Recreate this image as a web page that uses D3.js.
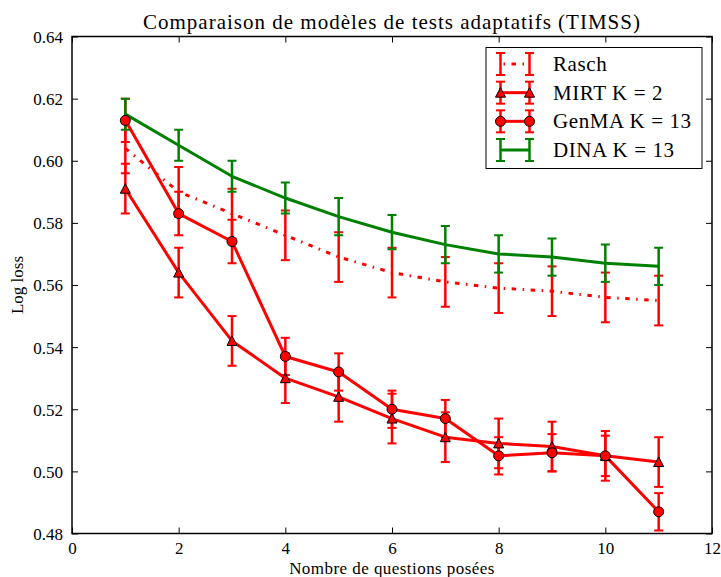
<!DOCTYPE html>
<html>
<head>
<meta charset="utf-8">
<script src="https://cdn.jsdelivr.net/npm/d3@7"></script>
<style>
  html, body { margin: 0; padding: 0; background: #fff; }
  svg { display: block; }
  text { font-family: "Liberation Serif", "Times New Roman", serif; fill: #000; }
</style>
</head>
<body>
<svg id="chart" width="721" height="577"></svg>
<script>
// ---- data ----
const questions = [1, 2, 3, 4, 5, 6, 7, 8, 9, 10, 11];
const raschValues = [0.604, 0.590, 0.583, 0.576, 0.569, 0.564, 0.561, 0.559, 0.558, 0.556, 0.555];
const raschErrors = [0.008, 0.008, 0.008, 0.008, 0.008, 0.008, 0.008, 0.008, 0.008, 0.008, 0.008];
const mirtValues = [0.591, 0.564, 0.542, 0.530, 0.524, 0.517, 0.511, 0.509, 0.508, 0.505, 0.503];
const mirtErrors = [0.008, 0.008, 0.008, 0.008, 0.008, 0.008, 0.008, 0.008, 0.008, 0.008, 0.008];
const genmaValues = [0.613, 0.583, 0.574, 0.537, 0.532, 0.520, 0.517, 0.505, 0.506, 0.505, 0.487];
const genmaErrors = [0.007, 0.007, 0.007, 0.006, 0.006, 0.006, 0.006, 0.006, 0.006, 0.0065, 0.006];
const dinaValues = [0.615, 0.605, 0.595, 0.588, 0.582, 0.577, 0.573, 0.570, 0.569, 0.567, 0.566];
const dinaErrors = [0.005, 0.005, 0.005, 0.005, 0.006, 0.0055, 0.006, 0.006, 0.006, 0.006, 0.006];
const seriesNames = ["Rasch", "MIRT K = 2", "GenMA K = 13", "DINA K = 13"];
const xTicks = [0, 2, 4, 6, 8, 10, 12];
const yTicks = [0.48, 0.50, 0.52, 0.54, 0.56, 0.58, 0.60, 0.62, 0.64];
const titleText = "Comparaison de modèles de tests adaptatifs (TIMSS)";
const xLabelText = "Nombre de questions posées";
const yLabelText = "Log loss";

// ---- styles ----
const RED = "#ff0000", GREEN = "#008000";
const series = [
  { name: seriesNames[0], values: raschValues, errors: raschErrors, color: RED, dash: "4.5,6.5,1.5,6.5", marker: null },
  { name: seriesNames[1], values: mirtValues, errors: mirtErrors, color: RED, dash: null, marker: "triangle" },
  { name: seriesNames[2], values: genmaValues, errors: genmaErrors, color: RED, dash: null, marker: "circle" },
  { name: seriesNames[3], values: dinaValues, errors: dinaErrors, color: GREEN, dash: null, marker: null }
];

const svg = d3.select("#chart");
const plot = { left: 72, right: 712, top: 36.5, bottom: 533.5 };
const x = d3.scaleLinear().domain([0, 12]).range([plot.left, plot.right]);
const y = d3.scaleLinear().domain([0.48, 0.64]).range([plot.bottom, plot.top]);

const TICK = 6;
const g = svg.append("g");

// ticks (inward, all four sides)
const axB = d3.axisBottom(x).tickValues(xTicks).tickSizeInner(-TICK).tickSizeOuter(0).tickFormat(d => d);
const axT = d3.axisTop(x).tickValues(xTicks).tickSizeInner(-TICK).tickSizeOuter(0).tickFormat("");
const axL = d3.axisLeft(y).tickValues(yTicks).tickSizeInner(-TICK).tickSizeOuter(0).tickFormat(d3.format(".2f"));
const axR = d3.axisRight(y).tickValues(yTicks).tickSizeInner(-TICK).tickSizeOuter(0).tickFormat("");

function styleAxis(sel) {
  sel.select(".domain").remove();
  sel.selectAll(".tick line").attr("stroke", "#000").attr("stroke-width", 1);
  sel.selectAll(".tick text").style("font-family", "'Liberation Serif', serif").style("font-size", "17px").attr("fill", "#000");
}
const gB = g.append("g").attr("transform", `translate(0,${plot.bottom})`).call(axB).call(styleAxis);
gB.selectAll(".tick text").attr("y", 8).attr("dy", "0.71em");
const gT = g.append("g").attr("transform", `translate(0,${plot.top})`).call(axT).call(styleAxis);
const gL = g.append("g").attr("transform", `translate(${plot.left},0)`).call(axL).call(styleAxis);
gL.selectAll(".tick text").attr("x", -9).attr("dy", "0.35em");
const gR = g.append("g").attr("transform", `translate(${plot.right},0)`).call(axR).call(styleAxis);

// clip
svg.append("defs").append("clipPath").attr("id", "clip")
  .append("rect").attr("x", plot.left).attr("y", plot.top)
  .attr("width", plot.right - plot.left).attr("height", plot.bottom - plot.top);

const data = g.append("g").attr("clip-path", "url(#clip)");
const CAP = 4.5;

function drawErrorBars(sel, s) {
  const eb = sel.append("g").attr("stroke", s.color);
  questions.forEach((q, i) => {
    const xv = x(q), y1 = y(s.values[i] + s.errors[i]), y0 = y(s.values[i] - s.errors[i]);
    eb.append("line").attr("x1", xv).attr("x2", xv).attr("y1", y1).attr("y2", y0).attr("stroke-width", 2.5);
    eb.append("line").attr("x1", xv - CAP).attr("x2", xv + CAP).attr("y1", y1).attr("y2", y1).attr("stroke-width", 2);
    eb.append("line").attr("x1", xv - CAP).attr("x2", xv + CAP).attr("y1", y0).attr("y2", y0).attr("stroke-width", 2);
  });
}

const line = d3.line().x((d, i) => x(questions[i])).y(d => y(d));
series.forEach(s => {
  drawErrorBars(data, s);
  const p = data.append("path").datum(s.values).attr("d", line)
    .attr("fill", "none").attr("stroke", s.color).attr("stroke-width", 3)
    .attr("stroke-linejoin", "round");
  if (s.dash) p.attr("stroke-dasharray", s.dash).attr("stroke-linecap", "butt");
});

function markerPath(type) {
  if (type === "triangle") return "M0,-5 L5,4.5 L-5,4.5 Z";
  return null;
}
function drawMarker(sel, type, cx, cy, color) {
  if (type === "circle") {
    sel.append("circle").attr("cx", cx).attr("cy", cy).attr("r", 5)
      .attr("fill", color).attr("stroke", "#000").attr("stroke-width", 1);
  } else if (type === "triangle") {
    sel.append("path").attr("d", markerPath(type)).attr("transform", `translate(${cx},${cy})`)
      .attr("fill", color).attr("stroke", "#000").attr("stroke-width", 1);
  }
}
series.forEach(s => {
  if (!s.marker) return;
  s.values.forEach((v, i) => drawMarker(data, s.marker, x(questions[i]), y(v), s.color));
});

// frame
g.append("rect").attr("x", plot.left).attr("y", plot.top)
  .attr("width", plot.right - plot.left).attr("height", plot.bottom - plot.top)
  .attr("fill", "none").attr("stroke", "#000").attr("stroke-width", 1.5);

// title and labels
svg.append("text").attr("x", (plot.left + plot.right) / 2).attr("y", 29)
  .attr("text-anchor", "middle").style("font-size", "21px").style("letter-spacing", "1px").text(titleText);
svg.append("text").attr("x", (plot.left + plot.right) / 2).attr("y", 574)
  .attr("text-anchor", "middle").style("font-size", "17px").style("letter-spacing", "0.45px").text(xLabelText);
svg.append("text").attr("transform", `translate(23,${(plot.top + plot.bottom) / 2}) rotate(-90)`)
  .attr("text-anchor", "middle").style("font-size", "17px").text(yLabelText);

// legend
const leg = svg.append("g");
leg.append("rect").attr("x", 486).attr("y", 47.5).attr("width", 216).attr("height", 121)
  .attr("fill", "#fff").attr("stroke", "#000").attr("stroke-width", 1);
const legY = d3.scaleLinear().domain([0, 3]).range([64, 150]);
const hx0 = 500.5, hx1 = 529.5, HH = 11;
series.forEach((s, i) => {
  const cy = legY(i);
  const e = leg.append("g");
  const ln = e.append("line").attr("x1", hx0).attr("x2", hx1).attr("y1", cy).attr("y2", cy)
    .attr("stroke", s.color).attr("stroke-width", 3);
  if (s.dash) ln.attr("stroke-dasharray", "1.5,6.5,4.5,6.5").attr("stroke-dashoffset", -3);
  [hx0, hx1].forEach(hx => {
    e.append("line").attr("x1", hx).attr("x2", hx).attr("y1", cy - HH).attr("y2", cy + HH).attr("stroke", s.color).attr("stroke-width", 2.5);
    e.append("line").attr("x1", hx - CAP).attr("x2", hx + CAP).attr("y1", cy - HH).attr("y2", cy - HH).attr("stroke", s.color).attr("stroke-width", 2);
    e.append("line").attr("x1", hx - CAP).attr("x2", hx + CAP).attr("y1", cy + HH).attr("y2", cy + HH).attr("stroke", s.color).attr("stroke-width", 2);
    if (s.marker) drawMarker(e, s.marker, hx, cy, s.color);
  });
  e.append("text").attr("x", 553).attr("y", cy + 7).style("font-size", "21px").style("letter-spacing", "0.6px").text(s.name);
});
</script>
</body>
</html>
